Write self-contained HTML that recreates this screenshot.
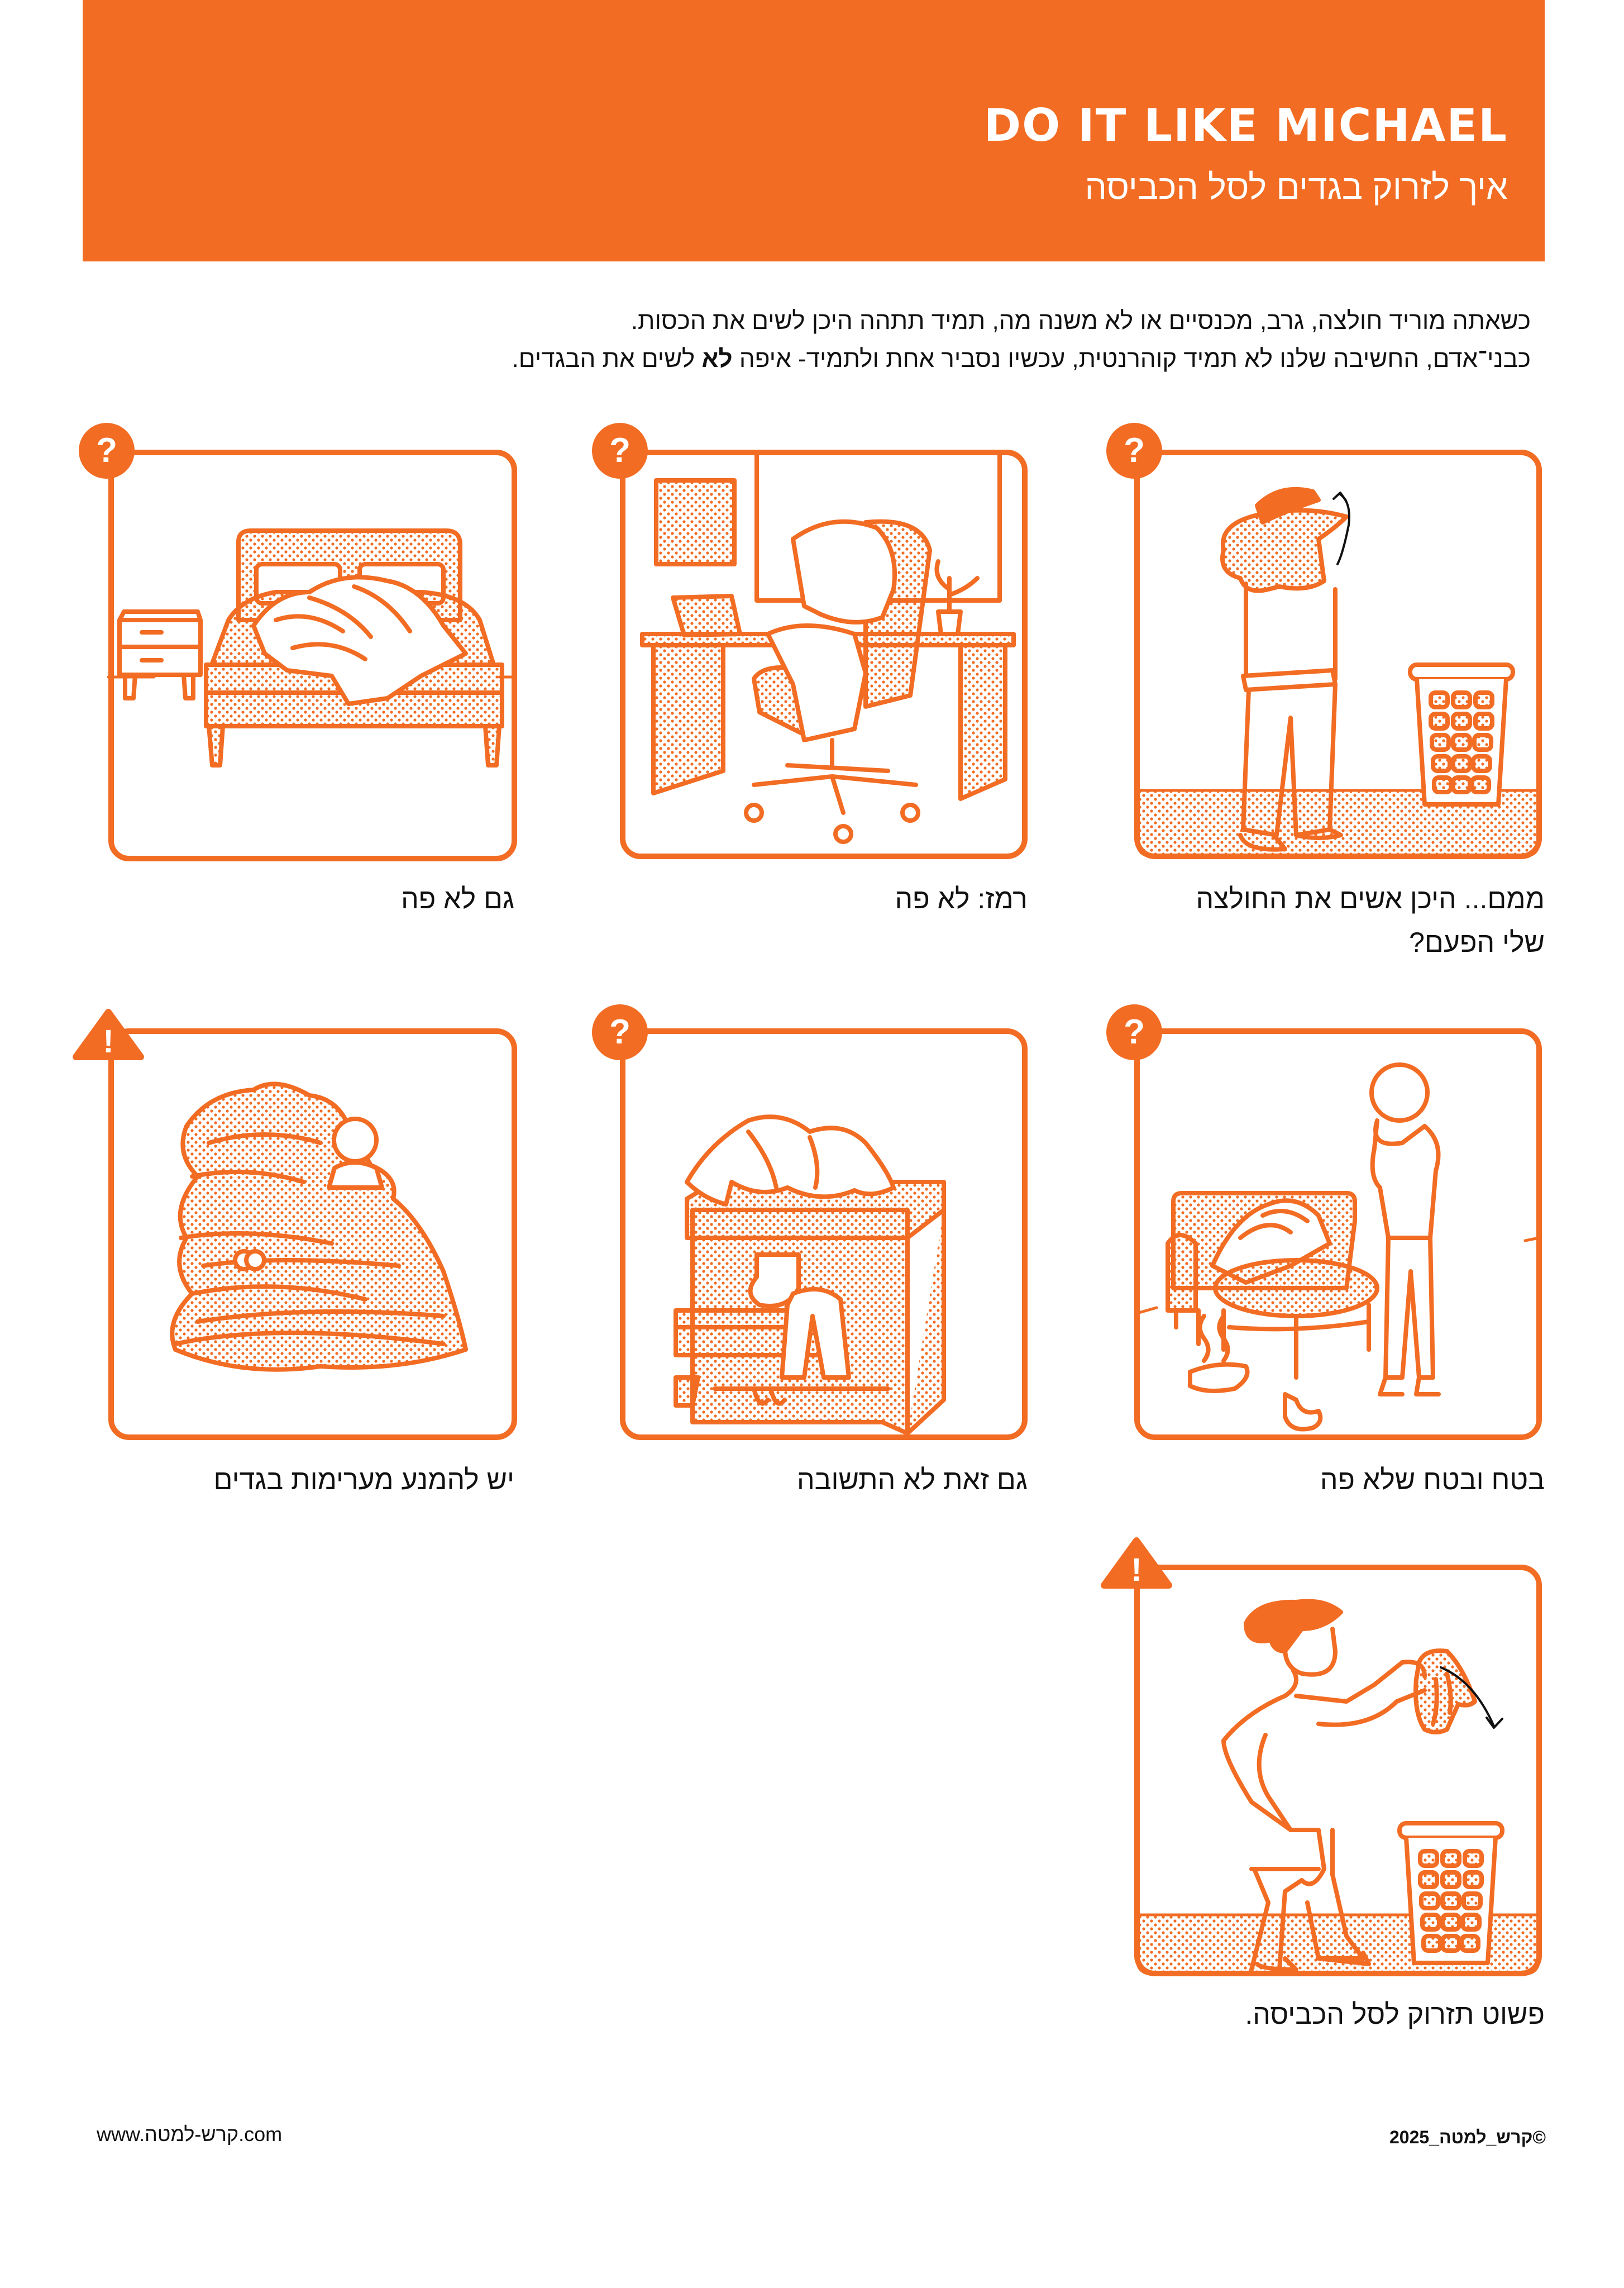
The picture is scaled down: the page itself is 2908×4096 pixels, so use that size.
<!DOCTYPE html>
<html><head><meta charset="utf-8">
<style>
html,body{margin:0;padding:0;background:#fff;}
body{width:2908px;height:4096px;position:relative;overflow:hidden;font-family:"Liberation Sans","Noto Sans CJK JP",sans-serif;}
.hdr{position:absolute;left:148px;top:0;width:2618px;height:468px;background:#f26c23;}
.t{position:absolute;white-space:nowrap;direction:rtl;}
svg{position:absolute;left:0;top:0;}
</style></head><body>
<div class="hdr"></div>
<div class="t" style="right:208px;top:178px;font-size:80px;font-weight:bold;color:#fff;letter-spacing:2px;direction:ltr;font-family:'DejaVu Sans','Liberation Sans',sans-serif;">DO IT LIKE MICHAEL</div>
<div class="t" style="right:208px;top:300px;font-size:62px;color:#fff;">איך לזרוק בגדים לסל הכביסה</div>
<div class="t" style="right:167px;top:550px;font-size:44px;color:#111;">כשאתה מוריד חולצה, גרב, מכנסיים או לא משנה מה, תמיד תתהה היכן לשים את הכסות.</div>
<div class="t" style="right:167px;top:618px;font-size:44px;color:#111;">כבני־אדם, החשיבה שלנו לא תמיד קוהרנטית, עכשיו נסביר אחת ולתמיד- איפה <b>לא</b> לשים את הבגדים.</div>

<div class="t" style="right:142px;top:1580px;font-size:50px;color:#111;">ממם... היכן אשים את החולצה</div>
<div class="t" style="right:142px;top:1658px;font-size:50px;color:#111;">שלי הפעם?</div>
<div class="t" style="right:1068px;top:1580px;font-size:50px;color:#111;">רמז: לא פה</div>
<div class="t" style="right:1987px;top:1580px;font-size:50px;color:#111;">גם לא פה</div>
<div class="t" style="right:142px;top:2620px;font-size:50px;color:#111;">בטח ובטח שלא פה</div>
<div class="t" style="right:1068px;top:2620px;font-size:50px;color:#111;">גם זאת לא התשובה</div>
<div class="t" style="right:1987px;top:2620px;font-size:50px;color:#111;">יש להמנע מערימות בגדים</div>
<div class="t" style="right:142px;top:3577px;font-size:50px;color:#111;">פשוט תזרוק לסל הכביסה.</div>
<div class="t" style="left:173px;top:3800px;font-size:36px;color:#111;direction:ltr;">www.קרש-למטה.com</div>
<div class="t" style="right:140px;top:3808px;font-size:32px;font-weight:bold;color:#111;">©קרש_למטה_2025</div>

<svg width="2908" height="4096" viewBox="0 0 2908 4096" xmlns="http://www.w3.org/2000/svg">
<defs>
<pattern id="d" width="14" height="14" patternUnits="userSpaceOnUse">
<circle cx="3" cy="3" r="2.6" fill="#f26c23"/><circle cx="10" cy="10" r="2.6" fill="#f26c23"/>
</pattern>
<g id="q"><circle r="50" fill="#f26c23"/><text x="0" y="20" text-anchor="middle" font-size="62" font-weight="bold" fill="#fff" font-family="Liberation Sans">?</text></g>
<g id="w"><path d="M0,-78 L58,2 L-58,2 Z" fill="#f26c23" stroke="#f26c23" stroke-width="12" stroke-linejoin="round"/><text x="0" y="-6" text-anchor="middle" font-size="58" font-weight="bold" fill="#fff" font-family="Liberation Sans">!</text></g>
<g id="basket">
<rect x="-92" y="0" width="184" height="26" rx="12" fill="#fff"/>
<path d="M-80,26 L-66,250 L66,250 L80,26" fill="#fff"/>
<g fill="url(#d)">
<rect x="-55" y="50" width="30" height="26" rx="8"/><rect x="-15" y="50" width="30" height="26" rx="8"/><rect x="25" y="50" width="30" height="26" rx="8"/>
<rect x="-55" y="88" width="30" height="26" rx="8"/><rect x="-15" y="88" width="30" height="26" rx="8"/><rect x="25" y="88" width="30" height="26" rx="8"/>
<rect x="-53" y="126" width="30" height="26" rx="8"/><rect x="-15" y="126" width="30" height="26" rx="8"/><rect x="23" y="126" width="30" height="26" rx="8"/>
<rect x="-51" y="164" width="30" height="26" rx="8"/><rect x="-15" y="164" width="30" height="26" rx="8"/><rect x="21" y="164" width="30" height="26" rx="8"/>
<rect x="-49" y="202" width="30" height="26" rx="8"/><rect x="-15" y="202" width="30" height="26" rx="8"/><rect x="19" y="202" width="30" height="26" rx="8"/>
</g></g>
</defs>
<g fill="none" stroke="#f26c23" stroke-width="8" stroke-linejoin="round" stroke-linecap="round">

<g transform="translate(2031,805)">
<path d="M5,610 H725 V700 Q725,728 697,728 H33 Q5,728 5,700 Z" fill="url(#d)" stroke-width="5"/>
<rect x="5" y="5" width="720" height="723" rx="32" stroke-width="10"/>
<path d="M220,100 Q260,60 320,75 L330,90 Q270,110 230,130 Z" fill="#f26c23"/>
<path d="M160,180 Q150,130 230,115 Q310,100 380,120 Q360,140 330,160 L340,235 Q310,255 260,245 L240,250 Q200,260 190,230 Q150,220 160,180 Z" fill="url(#d)"/>
<path d="M200,240 V410 H360 V250"/>
<path d="M195,405 L355,395 L360,420 L200,430 Z" fill="#fff"/>
<path d="M205,430 L195,680 L255,690 L280,480 L290,690 L350,680 L360,420"/>
<path d="M190,690 Q200,720 270,715 L250,690 M290,690 Q330,700 370,690 L350,680"/>
</g>
<g transform="translate(2617,1190)"><use href="#basket" stroke-width="8"/></g>
<path d="M2400,885 Q2420,900 2415,940 Q2405,990 2395,1010" stroke="#111" stroke-width="4"/>
<path d="M2388,893 L2400,882 L2410,896" stroke="#111" stroke-width="4"/>

<g transform="translate(1110,805)">
<rect x="5" y="5" width="720" height="723" rx="32" stroke-width="10"/>
<path d="M245,5 V270 H680 V5"/>
<rect x="65" y="55" width="140" height="150" fill="url(#d)"/>
<path d="M95,265 L200,262 L215,330 L115,332 Z" fill="url(#d)"/>
<path d="M40,330 H705 V350 H40 Z" fill="url(#d)"/>
<path d="M60,350 V615 L185,575 V350 Z" fill="url(#d)"/>
<path d="M610,350 V625 L690,590 V350 Z" fill="url(#d)"/>
<path d="M440,130 Q540,120 555,180 L520,440 L440,460 Z" fill="url(#d)"/>
<path d="M240,410 Q260,380 330,395 L420,470 L330,510 L250,470 Z" fill="url(#d)"/>
<path d="M310,160 Q380,110 460,140 Q500,180 490,250 L470,300 Q420,320 360,295 L330,280 Z" fill="#fff"/>
<path d="M265,330 Q330,300 420,330 L440,400 L420,500 L330,520 L310,420 Z" fill="#fff"/>
<path d="M380,520 V565 M300,565 L480,575 M240,600 L380,585 L400,650 M380,585 L530,600"/>
<circle cx="240" cy="650" r="14"/><circle cx="400" cy="688" r="14"/><circle cx="520" cy="650" r="14"/>
<path d="M575,330 L570,290 H610 L605,330 Z M590,290 V230 M590,250 Q560,230 570,200 M590,260 Q620,250 640,230"/>
</g>

<g transform="translate(194,810)">
<rect x="5" y="0" width="722" height="727" rx="32" stroke-width="10"/>
<path d="M0,402 H82 M700,402 H727" stroke-width="5"/>
<path d="M20,300 H165 V398 H20 Z M20,300 L28,285 H160 L165,300" fill="#fff"/>
<path d="M20,348 H165 M60,322 H95 M60,372 H95 M30,398 V440 H45 L48,398 M135,398 L138,440 H152 V398"/>
<path d="M233,160 Q233,140 255,140 H605 Q630,140 630,165 V300 H233 Z" fill="url(#d)"/>
<rect x="265" y="200" width="150" height="70" rx="10" fill="#fff"/>
<rect x="450" y="200" width="150" height="70" rx="10" fill="#fff"/>
<path d="M215,300 Q240,260 300,250 L560,250 Q640,255 665,300 L690,380 H185 Z" fill="url(#d)"/>
<path d="M175,380 H705 V490 H175 Z" fill="url(#d)"/>
<path d="M175,430 H705"/>
<path d="M180,490 L186,560 H200 L205,490 M675,490 L680,560 H695 L700,490" fill="url(#d)"/>
<path d="M260,310 Q300,250 360,250 Q420,210 500,230 Q560,240 600,310 L640,360 L560,400 L500,440 L430,450 L400,400 L320,390 L280,360 Z" fill="#fff"/>
<path d="M300,300 Q360,280 420,320 M360,260 Q430,280 470,330 M440,240 Q500,260 540,320 M330,350 Q400,330 460,370"/>
</g>

<g transform="translate(2031,1846)">
<rect x="5" y="0" width="720" height="727" rx="32" stroke-width="10"/>
<path d="M5,505 L40,495 M700,375 L725,370" stroke-width="5"/>
<path d="M70,315 V305 Q70,290 85,290 H380 Q395,290 395,305 V340 L380,460 H70 Z" fill="url(#d)"/>
<path d="M60,380 Q80,350 110,380 V500 H60 Z" fill="url(#d)"/>
<path d="M75,500 V530 M115,500 V560"/>
<path d="M140,420 Q180,330 240,310 Q290,290 330,330 L350,380 L280,420 L200,450 Z" fill="#fff"/>
<path d="M190,370 Q240,330 280,360 M230,330 Q270,310 310,340"/>
<ellipse cx="290" cy="460" rx="145" ry="50" fill="url(#d)"/>
<path d="M160,500 V570 M290,510 V620 M420,490 V570 M170,530 Q290,540 420,520"/>
<path d="M125,510 Q110,530 125,550 Q140,570 125,590 M160,510 Q145,530 160,550 Q175,570 160,590"/>
<path d="M100,610 Q150,590 200,600 Q210,620 180,640 Q130,650 100,635 Z" fill="#fff"/>
<path d="M270,650 L290,660 Q300,690 330,680 Q340,700 320,710 Q280,720 270,690 Z" fill="#fff"/>
<circle cx="475" cy="110" r="50"/>
<path d="M435,160 Q420,210 480,200 L520,170 Q555,200 540,250 L530,370 H455 L440,280 Q420,260 430,210 Z" fill="#fff"/>
<path d="M455,370 L450,620 H480 L495,430 L510,620 H535 L530,370 M450,620 L440,650 H480 M510,620 L505,650 H545"/>
</g>

<g transform="translate(1110,1846)">
<rect x="5" y="0" width="720" height="727" rx="32" stroke-width="10"/>
<path d="M120,300 L170,270 H580 V320 L515,370 H120 Z" fill="url(#d)"/>
<path d="M130,370 V530 M515,370 V720 M580,320 V660 L515,720" fill="url(#d)"/>
<path d="M130,320 H515 V720 L470,700 H130 Z" fill="url(#d)"/>
<path d="M100,500 H360 V580 H100 Z" fill="url(#d)"/>
<path d="M100,530 H360"/>
<path d="M100,620 H140 L130,670 H100 Z M170,640 H480" fill="url(#d)"/>
<path d="M120,270 Q160,200 230,160 Q290,140 340,180 Q400,160 440,200 Q480,250 490,280 Q450,300 420,285 Q360,310 300,280 Q250,300 200,270 L190,310 Q150,300 120,270 Z" fill="#fff"/>
<path d="M230,180 Q270,230 280,280 M340,190 Q360,240 350,280"/>
<path d="M245,400 H320 V460 Q300,500 250,490 Q220,470 245,440 Z" fill="#fff"/>
<path d="M300,490 L290,620 H330 L345,510 L365,620 H410 L395,480 Q360,450 310,470 Z" fill="#fff"/>
<path d="M240,640 Q250,680 265,660 M270,640 Q280,680 295,660"/>
</g>

<g transform="translate(194,1846)">
<rect x="5" y="0" width="722" height="727" rx="32" stroke-width="10"/>
<path d="M140,170 Q180,110 260,105 Q300,80 360,115 Q410,120 430,170 L470,240 Q520,260 510,300 Q560,340 600,430 Q630,520 640,570 Q520,610 380,600 Q240,620 120,570 Q100,520 150,470 Q110,420 140,370 Q110,320 160,260 Q120,220 140,170 Z" fill="url(#d)"/>
<path d="M150,260 Q250,240 350,270 M130,370 Q250,350 400,380 M150,470 Q300,440 460,480 M120,560 Q300,520 600,560 M180,200 Q280,170 380,200 M170,420 Q300,400 520,420 M160,520 Q350,490 600,510"/>
<circle cx="442" cy="195" r="38" fill="#fff"/>
<path d="M405,245 Q440,225 480,245 L490,280 H395 Z" fill="#fff"/>
<circle cx="243" cy="410" r="16" fill="#fff"/><circle cx="263" cy="410" r="16" fill="#fff"/>
</g>

<g transform="translate(2031,2806)">
<path d="M5,622 H725 V700 Q725,728 697,728 H33 Q5,728 5,700 Z" fill="url(#d)" stroke-width="5"/>
<rect x="5" y="0" width="720" height="727" rx="32" stroke-width="10"/>
<path d="M200,100 Q220,60 290,62 Q340,55 370,80 Q340,110 300,110 L270,150 Q250,150 245,130 Q200,140 200,100 Z" fill="#f26c23"/>
<path d="M270,145 Q270,180 300,190 Q360,200 360,150 L355,110"/>
<path d="M285,185 Q300,210 270,230 Q200,260 160,310 Q160,340 210,420 L280,470 H330 L340,540 Q320,580 300,560 L270,580 L260,720 M215,540 L240,600 L210,720 M210,540 L330,540 M355,470 V550 L380,660 L410,700 H330 L310,600"/>
<path d="M290,230 L380,240 L430,210 L480,170 Q520,165 520,195 M330,280 Q420,290 470,240 L520,220"/>
<path d="M235,300 Q210,360 240,410 L280,470"/>
<path d="M220,710 Q230,720 290,720 L270,700 M330,700 L420,710 L410,690"/>
<path d="M510,170 Q520,145 560,150 Q590,180 610,240 Q600,250 580,245 L560,290 Q540,300 520,290 Q500,260 505,200 Z" fill="url(#d)"/>
<path d="M540,200 Q545,250 535,280 M560,190 Q570,230 565,260"/>
</g>
<g transform="translate(2598,3264)"><use href="#basket" stroke-width="8"/></g>
<path d="M2580,2985 Q2640,3010 2675,3090" stroke="#111" stroke-width="4"/>
<path d="M2662,3075 L2675,3093 L2690,3077" stroke="#111" stroke-width="4"/>
</g>

<use href="#q" x="2031" y="807"/>
<use href="#q" x="1110" y="807"/>
<use href="#q" x="191" y="807"/>
<use href="#q" x="2031" y="1848"/>
<use href="#q" x="1110" y="1848"/>
<use href="#w" x="194" y="1890"/>
<use href="#w" x="2035" y="2836"/>
</svg>
</body></html>
